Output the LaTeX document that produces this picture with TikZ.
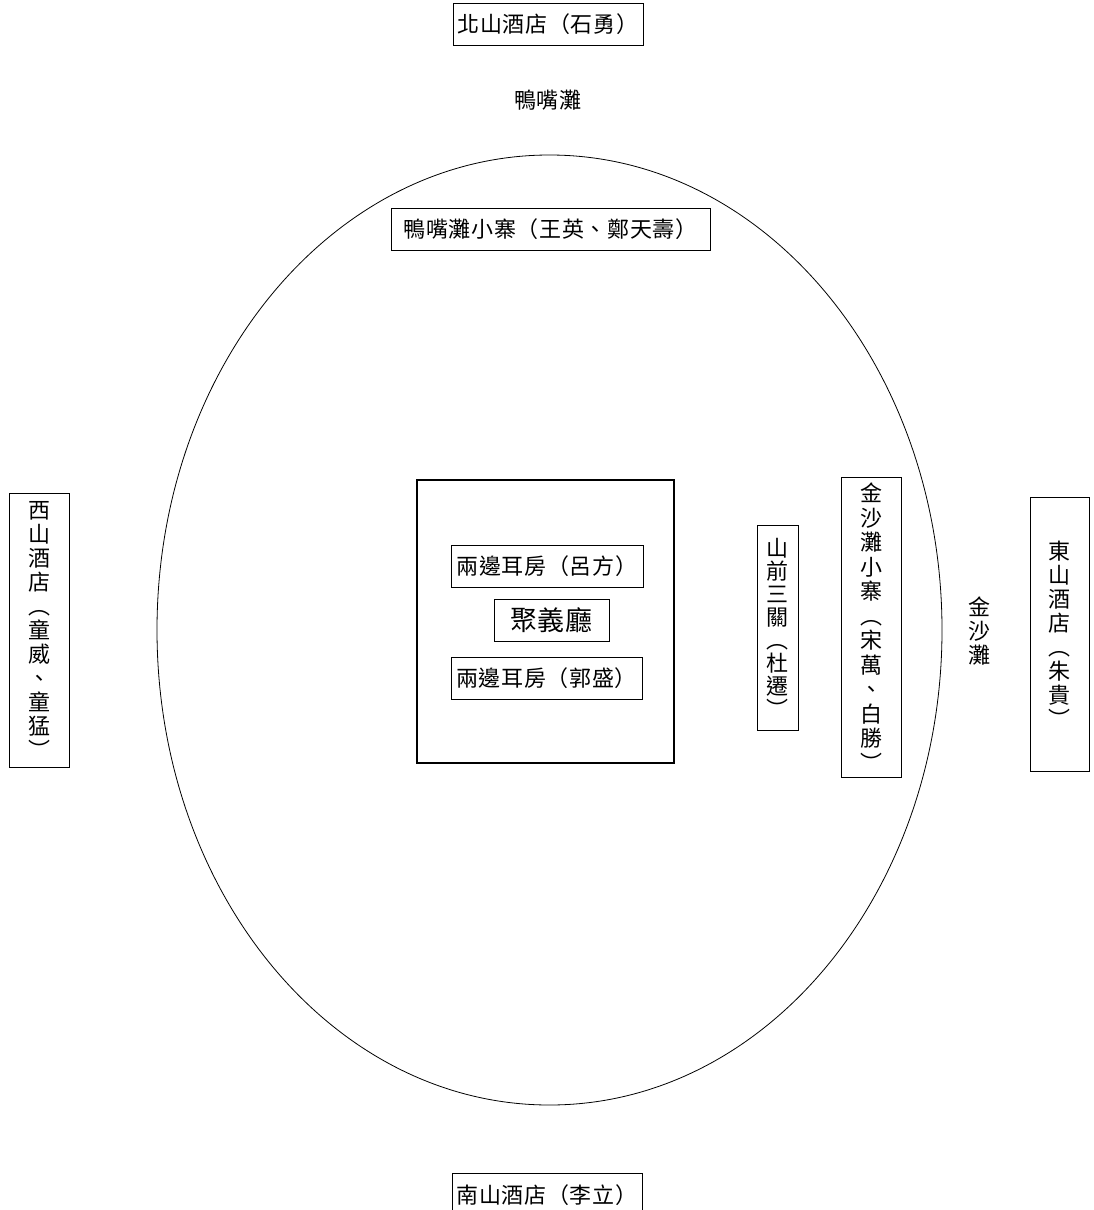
\documentclass[tikz,border=0pt]{standalone}
\usepackage{fontspec}
\usetikzlibrary{shapes.geometric}
\newfontfamily\cjkh[LetterSpace=3]{Noto Sans CJK TC}
\newfontfamily\cjkv{Noto Sans CJK TC}
\begin{document}
\begin{tikzpicture}[x=1pt,y=1pt,
  hbox/.style={draw, line width=0.8pt, inner sep=0pt, font=\cjkh\fontsize{22}{24}\selectfont, minimum height=42pt},
  htext/.style={inner sep=0pt, font=\cjkh\fontsize{22}{24}\selectfont},
  vbox/.style={draw, line width=0.8pt, inner sep=0pt, align=center, font=\cjkv\fontsize{22}{24}\selectfont},
  vtext/.style={inner sep=0pt, align=center, font=\cjkv\fontsize{22}{24}\selectfont}]
\useasboundingbox (0,0) rectangle (1093,-1210);
% outer ellipse
\node[ellipse, draw, line width=0.8pt, minimum width=785pt, minimum height=950pt, inner sep=0pt] (ell) at (549.5,-630) {};
% north
\node[hbox, minimum width=190pt] (north) at (548,-24) {北山酒店（石勇）};
\node[htext] (yazui) at (548,-100) {鴨嘴灘};
\node[hbox, minimum width=319pt] (yzfort) at (550.5,-229) {鴨嘴灘小寨（王英、鄭天壽）};
% hall
\node[draw, line width=1.8pt, minimum width=257pt, minimum height=283pt, inner sep=0pt] (hall) at (545.5,-621.5) {};
\node[hbox, minimum width=192pt] (lvfang) at (547,-566) {兩邊耳房（呂方）};
\node[hbox, minimum width=115pt, font=\cjkh\fontsize{27}{28}\selectfont] (juyi) at (551.5,-620) {聚義廳};
\node[hbox, minimum width=191pt] (guosheng) at (546.5,-678) {兩邊耳房（郭盛）};
% right side
\node[vbox, minimum width=41pt, minimum height=205pt, font=\cjkv\fontsize{22}{23}\selectfont] (shanqian) at (777.5,-627.5) {山\\前\\三\\關\\︵\\杜\\遷\\︶};
\node[vbox, minimum width=60pt, minimum height=300pt, font=\cjkv\fontsize{22}{24.5}\selectfont] (jsfort) at (871,-627) {金\\沙\\灘\\小\\寨\\︵\\宋\\萬\\、\\白\\勝\\︶};
\node[vtext] (jinsha) at (979,-631) {金\\沙\\灘};
\node[vbox, minimum width=59pt, minimum height=274pt, font=\cjkv\fontsize{22}{24}\selectfont] (east) at (1059.5,-634) {東\\山\\酒\\店\\︵\\朱\\貴\\︶};
% west
\node[vbox, minimum width=60pt, minimum height=274pt, font=\cjkv\fontsize{22}{24}\selectfont] (west) at (39,-630) {西\\山\\酒\\店\\︵\\童\\威\\、\\童\\猛\\︶};
% south
\node[hbox, minimum width=190pt, minimum height=44pt] (south) at (547,-1195) {南山酒店（李立）};
\end{tikzpicture}
\end{document}
